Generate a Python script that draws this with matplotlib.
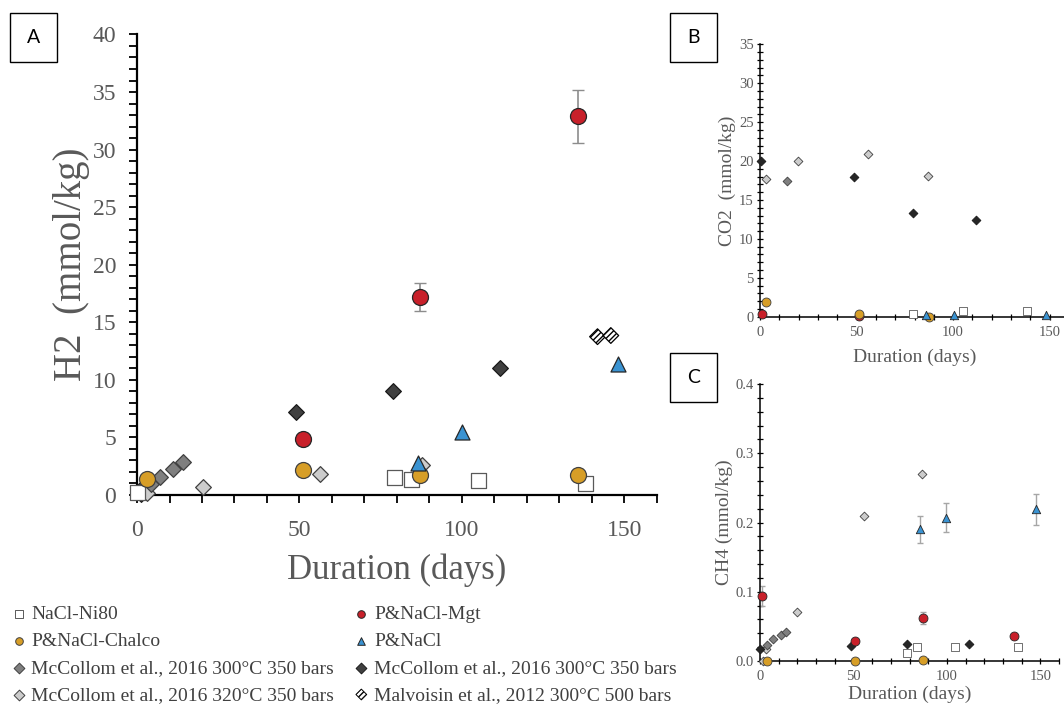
import numpy as np
import matplotlib
matplotlib.use('Agg')
import matplotlib.pyplot as plt
from matplotlib.patches import Rectangle
from matplotlib.ticker import MultipleLocator, FormatStrFormatter

plt.rcParams['font.family'] = ['Liberation Serif', 'DejaVu Serif']

# ---- data (duration days, concentration mmol/kg) ----
# panel A : H2
h2_ni80_x = [0, 79.2, 84.3, 105.1, 138.0]
h2_ni80_y = [0.3, 1.55, 1.40, 1.32, 1.08]
h2_mgt_x = [51.2, 87.2, 135.9]
h2_mgt_y = [4.9, 17.2, 32.9]
h2_mgt_err = [0.0, 1.2, 2.3]
h2_chalco_x = [3.1, 51.2, 87.2, 135.9]
h2_chalco_y = [1.38, 2.15, 1.75, 1.75]
h2_nacl_x = [86.4, 100.0, 148.0]
h2_nacl_y = [2.75, 5.45, 11.4]
h2_mc300_x = [4.3, 7.2, 11.1, 14.2]
h2_mc300_y = [0.97, 1.56, 2.26, 2.85]
h2_mc300d_x = [0.8, 1.2, 48.9, 78.9, 111.8]
h2_mc300d_y = [0.4, 0.05, 7.2, 9.0, 11.0]
h2_mc320_x = [3.1, 20.4, 56.3, 87.7]
h2_mc320_y = [0.2, 0.7, 1.8, 2.6]
h2_malv_x = [141.8, 145.9]
h2_malv_y = [13.75, 13.85]

# panel B : CO2
co2_ni80_x = [79.3, 105.0, 138.4]
co2_ni80_y = [0.3, 0.73, 0.73]
co2_mgt_x = [1.0, 51.0]
co2_mgt_y = [0.34, 0.1]
co2_chalco_x = [2.9, 51.0, 87.6]
co2_chalco_y = [1.9, 0.3, 0.0]
co2_nacl_x = [86.2, 100.3, 148.3]
co2_nacl_y = [0.17, 0.17, 0.17]
co2_mc300_x = [14.1]
co2_mc300_y = [17.4]
co2_mc300d_x = [0.5, 48.8, 79.3, 112.0]
co2_mc300d_y = [20.05, 18.0, 13.3, 12.4]
co2_mc320_x = [2.9, 19.8, 56.0, 87.0]
co2_mc320_y = [17.7, 20.0, 20.95, 18.1]

# panel C : CH4
ch4_ni80_x = [78.9, 83.9, 104.6, 137.9]
ch4_ni80_y = [0.011, 0.020, 0.020, 0.020]
ch4_mgt_x = [1.25, 50.9, 87.0, 135.7]
ch4_mgt_y = [0.094, 0.029, 0.062, 0.036]
ch4_mgt_err = [0.015, 0.0, 0.009, 0.0]
ch4_chalco_x = [3.6, 50.9, 87.0]
ch4_chalco_y = [0.0, 0.0, 0.002]
ch4_nacl_x = [85.7, 99.6, 147.7]
ch4_nacl_y = [0.19, 0.207, 0.219]
ch4_nacl_err = [0.019, 0.021, 0.022]
ch4_mc300_x = [3.9, 7.1, 11.1, 13.9]
ch4_mc300_y = [0.023, 0.032, 0.037, 0.042]
ch4_mc300d_x = [0.0, 48.9, 78.6, 111.6]
ch4_mc300d_y = [0.017, 0.022, 0.025, 0.025]
ch4_mc320_x = [1.4, 3.0, 20.0, 55.9, 86.8]
ch4_mc320_y = [0.0, 0.017, 0.071, 0.21, 0.27]

labels = ['NaCl-Ni80', 'P&NaCl-Chalco', 'McCollom et al., 2016 300°C 350 bars',
          'McCollom et al., 2016 320°C 350 bars', 'P&NaCl-Mgt', 'P&NaCl',
          'McCollom et al., 2016 300°C 350 bars', 'Malvoisin et al., 2012 300°C 500 bars']

# styles
st = {
    'ni80': dict(marker='s', facecolor='white', edgecolor='#595959'),
    'mgt': dict(marker='o', facecolor='#c8202a', edgecolor='#262626'),
    'chalco': dict(marker='o', facecolor='#d79e27', edgecolor='#404040'),
    'nacl': dict(marker='^', facecolor='#3a93d2', edgecolor='#262626'),
    'mc300': dict(marker='D', facecolor='#7f7f7f', edgecolor='#404040'),
    'mc300d': dict(marker='D', facecolor='#404040', edgecolor='#1a1a1a'),
    'mc320': dict(marker='D', facecolor='#cccccc', edgecolor='#404040'),
    'malv': dict(marker='D', facecolor='white', edgecolor='black', hatch='//////'),
}
grey = '#595959'

fig = plt.figure(figsize=(10.64, 7.06), dpi=100)
axA = fig.add_axes([0.1288, 0.2989, 0.4883, 0.6523])
axB = fig.add_axes([0.7143, 0.5514, 0.2904, 0.3858])
axC = fig.add_axes([0.7143, 0.0637, 0.2810, 0.3924])


def pts(ax, x, y, key, big):
    s = st[key]
    size = {'o': 11.5, 's': 10.8, '^': 10.8, 'D': 8.0}[s['marker']]
    if not big:
        size = size * 0.56
    if s['marker'] == 'D' and key == 'mc300d' and not big:
        s = dict(s, facecolor='#262626')
    ax.scatter(x, y, s=size ** 2, marker=s['marker'], facecolor=s['facecolor'],
               edgecolor=s['edgecolor'], linewidths=0.9 if big else 0.6,
               hatch=s.get('hatch'), zorder=3, clip_on=False)


def style(ax, big):
    for side in ['top', 'right']:
        ax.spines[side].set_visible(False)
    for side in ['left', 'bottom']:
        ax.spines[side].set_linewidth(1.6 if big else 1.1)
        ax.spines[side].set_zorder(2)
    if big:
        ax.tick_params(which='both', direction='out', length=6, width=1.3,
                       colors='black', labelcolor=grey, labelsize=17, pad=9)
        ax.tick_params(axis='x', pad=12)
    else:
        ax.tick_params(which='both', direction='inout', length=5, width=0.9,
                       colors='black', labelcolor=grey, labelsize=10.5, pad=2)
        ax.tick_params(axis='x', pad=4)
    ax.set_xlim(0, 160)
    ax.xaxis.set_major_locator(MultipleLocator(50))
    ax.xaxis.set_minor_locator(MultipleLocator(10))


# panel A
axA.errorbar(h2_mgt_x, h2_mgt_y, yerr=h2_mgt_err, fmt='none', ecolor='#8c8c8c',
             elinewidth=1.2, capsize=4, zorder=2)
pts(axA, h2_mc300d_x, h2_mc300d_y, 'mc300d', True)
pts(axA, h2_mc320_x, h2_mc320_y, 'mc320', True)
pts(axA, h2_mc300_x, h2_mc300_y, 'mc300', True)
pts(axA, h2_ni80_x, h2_ni80_y, 'ni80', True)
pts(axA, h2_chalco_x, h2_chalco_y, 'chalco', True)
pts(axA, h2_mgt_x, h2_mgt_y, 'mgt', True)
pts(axA, h2_nacl_x, h2_nacl_y, 'nacl', True)
pts(axA, h2_malv_x, h2_malv_y, 'malv', True)
style(axA, True)
axA.set_ylim(0, 40)
axA.yaxis.set_major_locator(MultipleLocator(5))
axA.yaxis.set_minor_locator(MultipleLocator(1))
axA.set_ylabel('H2  (mmol/kg)', fontsize=28, color=grey, labelpad=2)
axA.set_xlabel('Duration (days)', fontsize=25, color=grey, labelpad=9)

# panel B
pts(axB, co2_mc300d_x, co2_mc300d_y, 'mc300d', False)
pts(axB, co2_mc320_x, co2_mc320_y, 'mc320', False)
pts(axB, co2_mc300_x, co2_mc300_y, 'mc300', False)
pts(axB, co2_ni80_x, co2_ni80_y, 'ni80', False)
pts(axB, co2_mgt_x, co2_mgt_y, 'mgt', False)
pts(axB, co2_chalco_x, co2_chalco_y, 'chalco', False)
pts(axB, co2_nacl_x, co2_nacl_y, 'nacl', False)
style(axB, False)
axB.set_ylim(0, 35)
axB.yaxis.set_major_locator(MultipleLocator(5))
axB.yaxis.set_minor_locator(MultipleLocator(1))
axB.set_ylabel('CO2  (mmol/kg)', fontsize=14, color=grey, labelpad=2)
axB.set_xlabel('Duration (days)', fontsize=14, color=grey, labelpad=7)

# panel C
axC.errorbar(ch4_mgt_x, ch4_mgt_y, yerr=ch4_mgt_err, fmt='none', ecolor='#a6a6a6',
             elinewidth=1, capsize=2.5, zorder=2)
axC.errorbar(ch4_nacl_x, ch4_nacl_y, yerr=ch4_nacl_err, fmt='none', ecolor='#a6a6a6',
             elinewidth=1, capsize=2.5, zorder=2)
pts(axC, ch4_mc320_x, ch4_mc320_y, 'mc320', False)
pts(axC, ch4_mc300_x, ch4_mc300_y, 'mc300', False)
pts(axC, ch4_mc300d_x, ch4_mc300d_y, 'mc300d', False)
pts(axC, ch4_ni80_x, ch4_ni80_y, 'ni80', False)
pts(axC, ch4_mgt_x, ch4_mgt_y, 'mgt', False)
pts(axC, ch4_chalco_x, ch4_chalco_y, 'chalco', False)
pts(axC, ch4_nacl_x, ch4_nacl_y, 'nacl', False)
style(axC, False)
axC.set_ylim(0, 0.4)
axC.yaxis.set_major_locator(MultipleLocator(0.1))
axC.yaxis.set_minor_locator(MultipleLocator(0.02))
axC.yaxis.set_major_formatter(FormatStrFormatter('%.1f'))
axC.set_ylabel('CH4 (mmol/kg)', fontsize=14, color=grey, labelpad=2)
axC.set_xlabel('Duration (days)', fontsize=14, color=grey, labelpad=2)

# legend
keys = ['ni80', 'chalco', 'mc300', 'mc320', 'mgt', 'nacl', 'mc300d', 'malv']
handles = []
for k in keys:
    s = st[k]
    h = plt.scatter([], [], s=30, marker=s['marker'], facecolor=s['facecolor'],
                    edgecolor=s['edgecolor'], linewidths=0.7, hatch=s.get('hatch'))
    handles.append(h)
fig.legend(handles, labels, loc='upper left', bbox_to_anchor=(0.012, 0.142),
           ncol=2, frameon=False, fontsize=14, labelcolor='#404040',
           handlelength=0.6, handletextpad=0.35, labelspacing=0.47,
           columnspacing=1.1, borderpad=0, borderaxespad=0, scatterpoints=1)

# panel letters
for letter, x0, y0 in [('A', 10, 13), ('B', 670, 13), ('C', 670, 353)]:
    fig.add_artist(Rectangle((x0 / 1064, 1 - (y0 + 49) / 706), 47 / 1064, 49 / 706,
                             transform=fig.transFigure, fill=False,
                             edgecolor='black', linewidth=1))
    fig.text((x0 + 23.5) / 1064, 1 - (y0 + 24.5) / 706, letter, fontsize=14,
             family='Lato', ha='center', va='center')

fig.savefig('out.png', dpi=100)
